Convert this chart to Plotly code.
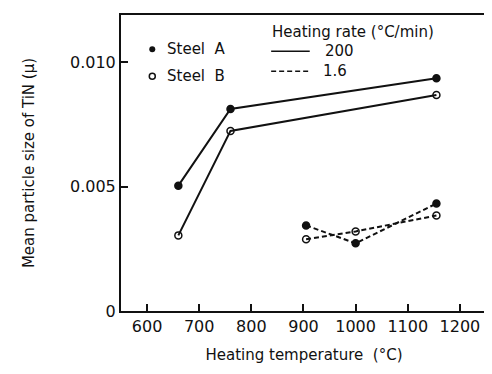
import plotly.graph_objects as go

temp_fast = [660, 760, 1155]
steelA_fast = [0.00504, 0.00812, 0.00936]
steelB_fast = [0.00304, 0.00724, 0.00868]
temp_slow = [905, 1000, 1155]
steelA_slow = [0.00344, 0.00272, 0.00432]
steelB_slow = [0.00288, 0.00320, 0.00384]

x_ticks = [600, 700, 800, 900, 1000, 1100, 1200]
y_ticks = [0, 0.005, 0.010]
y_ticktext = ["0", "0.005", "0.010"]

FONT = "DejaVu Sans"
black = "#111111"

fig = go.Figure()

def add(x, y, dash, filled):
    fig.add_trace(go.Scatter(
        x=x, y=y, mode="lines+markers",
        line=dict(color=black, width=2, dash=dash),
        marker=dict(size=7, symbol="circle" if filled else "circle-open",
                    color=black, line=dict(color=black, width=1.5)),
        showlegend=False))

add(temp_fast, steelA_fast, "solid", True)
add(temp_fast, steelB_fast, "solid", False)
add(temp_slow, steelA_slow, "5px,3px", True)
add(temp_slow, steelB_slow, "5px,3px", False)

# Legend (drawn manually)
fig.add_trace(go.Scatter(x=[610], y=[0.01052], mode="markers",
                         marker=dict(size=6, symbol="circle", color=black),
                         showlegend=False, cliponaxis=False))
fig.add_trace(go.Scatter(x=[610], y=[0.00944], mode="markers",
                         marker=dict(size=6, symbol="circle-open", color=black,
                                     line=dict(width=1.5, color=black)),
                         showlegend=False, cliponaxis=False))
ann_font = dict(family=FONT, size=15, color=black)
fig.add_annotation(x=634, y=0.01052, text="Steel  A", showarrow=False,
                   xanchor="left", yanchor="middle", font=ann_font)
fig.add_annotation(x=634, y=0.00944, text="Steel  B", showarrow=False,
                   xanchor="left", yanchor="middle", font=ann_font)
fig.add_annotation(x=836, y=0.0112, text="Heating rate (°C/min)", showarrow=False,
                   xanchor="left", yanchor="middle", font=ann_font)
fig.add_annotation(x=938, y=0.01044, text="200", showarrow=False,
                   xanchor="left", yanchor="middle", font=ann_font)
fig.add_annotation(x=933, y=0.00964, text="1.6", showarrow=False,
                   xanchor="left", yanchor="middle", font=ann_font)
fig.add_shape(type="line", x0=838, x1=912, y0=0.01044, y1=0.01044,
              line=dict(color=black, width=1.5))
fig.add_shape(type="line", x0=838, x1=912, y0=0.00964, y1=0.00964,
              line=dict(color=black, width=1.5, dash="5px,3px"))

axis_common = dict(showgrid=False, zeroline=False, showline=True, mirror=True,
                   linecolor=black, linewidth=2, ticks="inside", ticklen=7,
                   tickwidth=1.5, tickcolor=black,
                   tickfont=dict(family=FONT, size=16, color=black))

fig.update_xaxes(range=[550, 1252], tickvals=x_ticks,
                 title=dict(text="Heating temperature  (°C)",
                            font=dict(family=FONT, size=15, color=black), standoff=14),
                 **axis_common)
fig.update_yaxes(range=[0, 0.0119], tickvals=y_ticks, ticktext=y_ticktext,
                 title=dict(text="Mean particle size of TiN (μ)",
                            font=dict(family=FONT, size=15, color=black), standoff=32),
                 **axis_common)

fig.update_layout(width=492, height=374, plot_bgcolor="white", paper_bgcolor="white",
                  margin=dict(l=113, r=13, t=5, b=71))

fig.write_html("out.html")
